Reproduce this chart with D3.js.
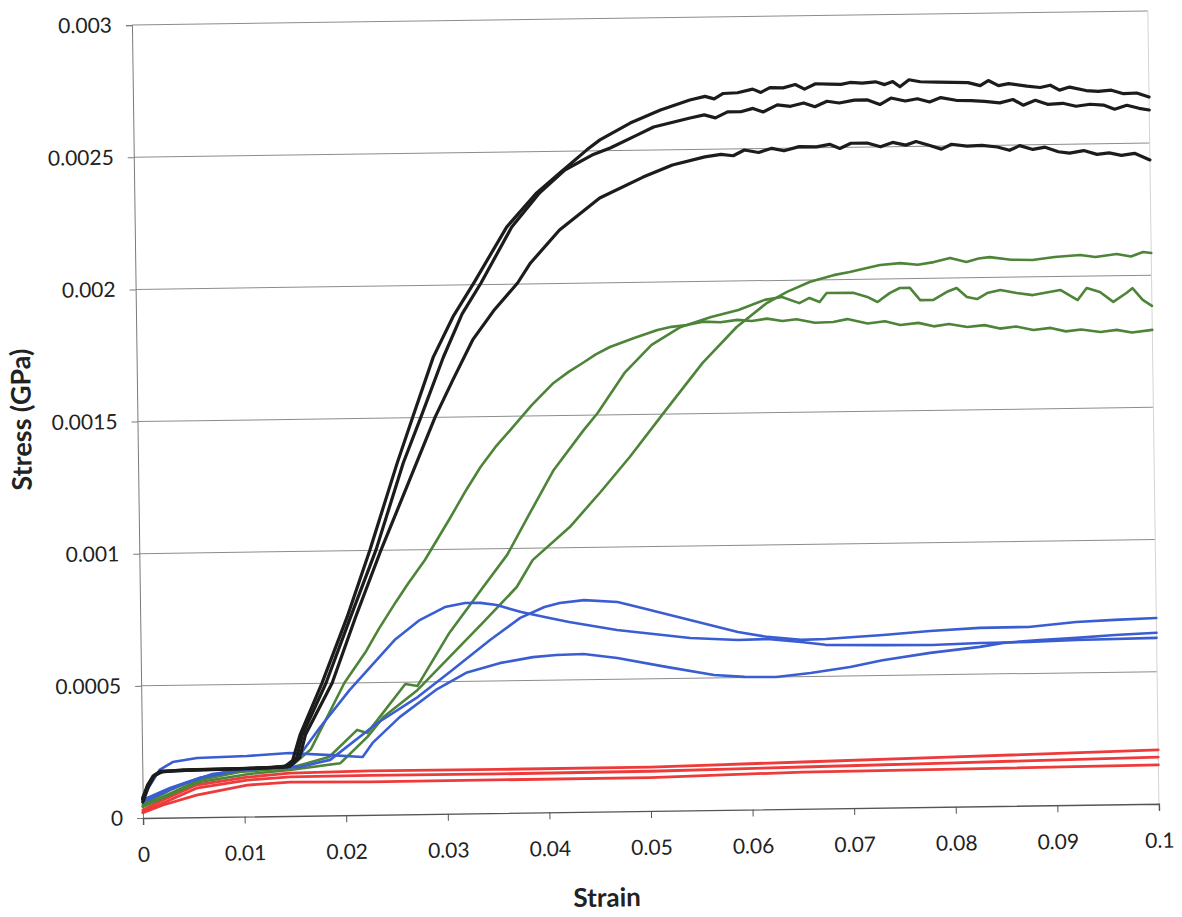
<!DOCTYPE html>
<html><head><meta charset="utf-8">
<script src="https://cdn.jsdelivr.net/npm/d3@7"></script>
<style>
body{margin:0;background:#fff}
text{font-family:Lato,"Open Sans",sans-serif;fill:#222}
</style></head>
<body><svg id="c" width="1182" height="917"></svg>
<script>
// ---- tick values / labels ----
const xTicks = [0,0.01,0.02,0.03,0.04,0.05,0.06,0.07,0.08,0.09,0.1];
const xTickLabels = ["0","0.01","0.02","0.03","0.04","0.05","0.06","0.07","0.08","0.09","0.1"];
const yTicks = [0,0.0005,0.001,0.0015,0.002,0.0025,0.003];
const yTickLabels = ["0","0.0005","0.001","0.0015","0.002","0.0025","0.003"];
const xTitle = "Strain";
const yTitle = "Stress (GPa)";

// ---- series [strain, stress] ----
const black1 = [[0,0.00007],[0.0005,0.00012],[0.001,0.000155],[0.0017,0.000173],[0.004,0.00018],[0.01,0.000182],[0.014,0.000186],[0.0148,0.00021],[0.01557,0.000306],[0.0178,0.000501],[0.02036,0.000749],[0.0227,0.001002],[0.0255,0.001329],[0.0271,0.001503],[0.0292,0.001728],[0.0312,0.00188],[0.0333,0.002007],[0.0366,0.002216],[0.0396,0.002344],[0.0419,0.002418],[0.0446,0.002504],[0.0459,0.002541],[0.0489,0.002603],[0.0519,0.002651],[0.0548,0.002687],[0.0563,0.0027],[0.0572,0.00269],[0.0581,0.00271],[0.0595,0.002712],[0.061,0.002725],[0.0618,0.002712],[0.0627,0.00273],[0.064,0.002728],[0.0652,0.00274],[0.0661,0.002722],[0.0672,0.002742],[0.0685,0.00274],[0.0697,0.002738],[0.0706,0.002745],[0.0718,0.002742],[0.0731,0.002746],[0.074,0.002735],[0.0748,0.002746],[0.0755,0.002726],[0.0764,0.002752],[0.0775,0.002744],[0.0792,0.002742],[0.0808,0.00274],[0.0822,0.002738],[0.0834,0.002726],[0.0842,0.002745],[0.0852,0.002725],[0.0862,0.002732],[0.088,0.002722],[0.0893,0.002716],[0.0903,0.002724],[0.0912,0.002705],[0.0922,0.002716],[0.0938,0.002702],[0.095,0.002698],[0.0963,0.002702],[0.0975,0.002688],[0.0988,0.00269],[0.1,0.002674]];
const black2 = [[0,0.00006],[0.0006,0.00012],[0.0012,0.00016],[0.002,0.000175],[0.006,0.00018],[0.012,0.000183],[0.0143,0.000186],[0.0152,0.00022],[0.0158,0.000306],[0.0182,0.000501],[0.0207,0.000749],[0.0233,0.001002],[0.0261,0.001329],[0.0279,0.001502],[0.0302,0.001728],[0.0321,0.00189],[0.034,0.002006],[0.0371,0.002216],[0.0399,0.002344],[0.0424,0.002429],[0.0451,0.002484],[0.0469,0.00251],[0.0496,0.002558],[0.0512,0.002587],[0.0548,0.002619],[0.0562,0.00263],[0.0573,0.002618],[0.0585,0.00264],[0.0598,0.00264],[0.061,0.002652],[0.062,0.002638],[0.0634,0.002664],[0.0647,0.002658],[0.066,0.00267],[0.0671,0.002655],[0.0683,0.002675],[0.0695,0.002668],[0.071,0.002678],[0.0723,0.002678],[0.0735,0.00266],[0.0746,0.002684],[0.076,0.002672],[0.0772,0.00268],[0.0784,0.002667],[0.0795,0.002683],[0.081,0.002672],[0.0825,0.00267],[0.0838,0.002666],[0.0853,0.00266],[0.0866,0.002672],[0.0876,0.00265],[0.0888,0.002668],[0.09,0.002652],[0.0915,0.002655],[0.0928,0.002643],[0.0942,0.00265],[0.0955,0.002646],[0.0966,0.00263],[0.0978,0.002644],[0.099,0.002632],[0.1,0.002625]];
const black3 = [[0,0.000075],[0.0005,0.000125],[0.0011,0.00016],[0.0018,0.000176],[0.005,0.000178],[0.011,0.000182],[0.0145,0.000187],[0.0155,0.00022],[0.0161,0.000306],[0.0188,0.000501],[0.0212,0.000749],[0.0238,0.001002],[0.026,0.001201],[0.0293,0.001501],[0.0311,0.001641],[0.0331,0.001791],[0.0352,0.0019],[0.0376,0.002004],[0.0389,0.002079],[0.0418,0.002202],[0.0458,0.002321],[0.0501,0.002398],[0.053,0.002442],[0.0562,0.002471],[0.0578,0.00248],[0.059,0.002474],[0.0601,0.002495],[0.0615,0.002485],[0.0628,0.0025],[0.064,0.00249],[0.0655,0.002505],[0.0672,0.002503],[0.0685,0.002512],[0.0695,0.002496],[0.0706,0.002515],[0.0722,0.002515],[0.0735,0.0025],[0.0747,0.002516],[0.076,0.002505],[0.077,0.002518],[0.0782,0.002504],[0.0795,0.002488],[0.0805,0.002506],[0.082,0.002498],[0.0835,0.0025],[0.085,0.002493],[0.0862,0.00248],[0.0872,0.002497],[0.0885,0.002482],[0.0897,0.00249],[0.091,0.002472],[0.0921,0.002466],[0.0935,0.002475],[0.0948,0.00246],[0.096,0.002465],[0.0972,0.002455],[0.0985,0.002462],[0.1,0.002436]];

const green1 = [[0,0.00005],[0.0027,0.000104],[0.0056,0.000148],[0.0086,0.000173],[0.0115,0.000179],[0.0148,0.000193],[0.0166,0.00025],[0.02,0.0005],[0.0222,0.00062],[0.0235,0.000705],[0.0252,0.000805],[0.0264,0.000872],[0.0281,0.000961],[0.0305,0.00111],[0.0322,0.00122],[0.0337,0.00131],[0.0352,0.001385],[0.0367,0.001449],[0.0388,0.00154],[0.041,0.001624],[0.0425,0.001665],[0.0439,0.001698],[0.0452,0.00173],[0.0466,0.001757],[0.049,0.00179],[0.0513,0.001819],[0.0527,0.00183],[0.0542,0.001836],[0.0558,0.001848],[0.0575,0.001845],[0.0592,0.001853],[0.0606,0.001848],[0.0621,0.001856],[0.0636,0.001846],[0.065,0.001852],[0.0668,0.001838],[0.0686,0.00184],[0.07,0.00185],[0.072,0.001832],[0.0737,0.00184],[0.0752,0.001825],[0.077,0.001832],[0.0785,0.001818],[0.08,0.001826],[0.0818,0.001814],[0.0835,0.00182],[0.085,0.001806],[0.0866,0.001813],[0.0883,0.001799],[0.09,0.001806],[0.0915,0.001792],[0.093,0.001798],[0.0949,0.001788],[0.0965,0.001795],[0.098,0.001784],[0.1,0.001793]];
const green2 = [[0,0.000045],[0.0056,0.000141],[0.0096,0.000169],[0.0145,0.000181],[0.0184,0.000221],[0.0212,0.000322],[0.0222,0.00031],[0.0232,0.000358],[0.026,0.000493],[0.0272,0.000485],[0.0304,0.000684],[0.0338,0.000856],[0.0362,0.000976],[0.0386,0.00114],[0.0409,0.001295],[0.0439,0.001444],[0.0453,0.001508],[0.048,0.001658],[0.0507,0.001763],[0.0536,0.001829],[0.0566,0.001865],[0.0593,0.00189],[0.0619,0.001927],[0.0636,0.001937],[0.0653,0.001913],[0.0663,0.001932],[0.0673,0.001916],[0.068,0.00195],[0.0706,0.001949],[0.072,0.001933],[0.073,0.001913],[0.0742,0.001946],[0.0752,0.001965],[0.0762,0.001965],[0.0772,0.001918],[0.0785,0.001918],[0.0798,0.001947],[0.0808,0.001962],[0.0818,0.001927],[0.0828,0.001919],[0.0838,0.001941],[0.0851,0.001952],[0.0867,0.00194],[0.0883,0.001931],[0.091,0.001949],[0.0927,0.00191],[0.0936,0.001955],[0.0949,0.001939],[0.0962,0.001901],[0.0975,0.001934],[0.0981,0.001952],[0.0991,0.001907],[0.1,0.001884]];
const green3 = [[0,0.000042],[0.0056,0.000133],[0.0105,0.000161],[0.0145,0.000174],[0.0195,0.000197],[0.0222,0.000295],[0.0238,0.000369],[0.0272,0.00047],[0.0304,0.000593],[0.0337,0.00072],[0.0371,0.000854],[0.0387,0.000955],[0.0424,0.001078],[0.0455,0.00121],[0.0484,0.00134],[0.0518,0.001505],[0.0557,0.001692],[0.0591,0.001826],[0.0621,0.001915],[0.0641,0.001956],[0.0664,0.001993],[0.0687,0.002017],[0.0703,0.002028],[0.072,0.002042],[0.0733,0.002053],[0.0753,0.002059],[0.077,0.002052],[0.0786,0.002061],[0.0802,0.002076],[0.0818,0.00206],[0.083,0.002072],[0.0841,0.002077],[0.0862,0.002066],[0.0883,0.002064],[0.0905,0.002074],[0.093,0.00208],[0.0945,0.002072],[0.0966,0.002082],[0.098,0.002072],[0.0992,0.002088],[0.1,0.002084]];

const blue1 = [[0,0.000068],[0.0027,0.000112],[0.0056,0.000148],[0.0096,0.000176],[0.0125,0.000182],[0.0148,0.000193],[0.0175,0.000331],[0.0205,0.000473],[0.025,0.00066],[0.0275,0.000734],[0.03,0.000782],[0.032,0.000796],[0.0335,0.000796],[0.0351,0.000787],[0.0375,0.000759],[0.0398,0.000739],[0.0422,0.000719],[0.0469,0.000686],[0.0541,0.000652],[0.0588,0.000642],[0.0617,0.000644],[0.065,0.000631],[0.0674,0.000619],[0.0731,0.000615],[0.0779,0.000613],[0.0826,0.000618],[0.0874,0.000619],[0.0921,0.000624],[0.1,0.000628]];
const blue2 = [[0,0.00006],[0.0037,0.000123],[0.0069,0.000163],[0.0106,0.00018],[0.0155,0.000185],[0.0185,0.00021],[0.0232,0.000347],[0.0272,0.000443],[0.0304,0.000536],[0.0344,0.000655],[0.0374,0.000737],[0.0398,0.000777],[0.0413,0.000791],[0.0437,0.000801],[0.047,0.000792],[0.0494,0.000768],[0.0541,0.00072],[0.0588,0.000672],[0.0617,0.000652],[0.065,0.000639],[0.0674,0.000641],[0.0731,0.000653],[0.0777,0.000666],[0.0826,0.000675],[0.0874,0.000676],[0.0921,0.000692],[0.0959,0.000698],[0.1,0.000703]];
const blue3 = [[0,0.000079],[0.0017,0.000181],[0.003,0.00021],[0.0054,0.000224],[0.0103,0.000229],[0.0145,0.000238],[0.0185,0.000228],[0.0217,0.000219],[0.0227,0.000272],[0.0254,0.000368],[0.029,0.000469],[0.032,0.000532],[0.0353,0.000567],[0.0386,0.000588],[0.0409,0.000595],[0.0436,0.000597],[0.0469,0.00058],[0.0517,0.000544],[0.0564,0.000511],[0.0594,0.000502],[0.0625,0.0005],[0.0659,0.000513],[0.0698,0.000534],[0.073,0.000558],[0.0777,0.000583],[0.0826,0.000603],[0.0849,0.000617],[0.0885,0.000626],[0.0921,0.000632],[0.0959,0.000641],[0.1,0.000647]];

const red1 = [[0,0.00003],[0.002,0.000067],[0.0053,0.000122],[0.0103,0.000149],[0.0145,0.000162],[0.0224,0.000166],[0.035,0.000165],[0.05,0.000166],[0.065,0.000177],[0.08,0.000188],[0.1,0.000204]];
const red2 = [[0,0.000023],[0.0053,0.00011],[0.0103,0.000138],[0.0145,0.000148],[0.0224,0.000149],[0.035,0.000148],[0.05,0.00015],[0.065,0.000158],[0.08,0.000166],[0.1,0.000177]];
const red3 = [[0,0.00002],[0.002,0.000048],[0.0053,0.000084],[0.0103,0.000119],[0.0145,0.000128],[0.0224,0.000125],[0.05,0.000126],[0.065,0.000139],[0.08,0.000142],[0.1,0.000147]];

const groups = [
  {series:[red1,red2,red3], color:"#ee3a3a", width:2.8},
  {series:[green1,green2,green3], color:"#4d8438", width:2.6},
  {series:[blue1,blue2,blue3], color:"#3a5dd2", width:2.6},
  {series:[black1,black2,black3], color:"#1c1c1c", width:3.2}
];

// ---- layout ----
const W = 1016, H = 793;
const svg = d3.select("#c");
const g = svg.append("g").attr("transform","translate(143,818) rotate(-0.8) translate(0,-793)");

const x = d3.scaleLinear().domain([0,0.1]).range([0,W]);
const y = d3.scaleLinear().domain([0,0.003]).range([H,0]);

// gridlines
g.append("g").selectAll("line").data(yTicks.filter(d=>d>0)).join("line")
  .attr("x1",0).attr("x2",W).attr("y1",d=>y(d)).attr("y2",d=>y(d))
  .attr("stroke","#8c8c8c").attr("stroke-width",1);
// right border
g.append("line").attr("x1",W).attr("x2",W).attr("y1",0).attr("y2",H)
  .attr("stroke","#d4d4d4").attr("stroke-width",1);

// y axis
const ya = g.append("g").call(d3.axisLeft(y).tickValues(yTicks).tickFormat((d,i)=>yTickLabels[i]).tickSize(6).tickPadding(14));
ya.select(".domain").attr("stroke","#7a7a7a");
ya.selectAll(".tick line").attr("stroke","#7a7a7a");
ya.selectAll("text").style("font-size","21px").attr("fill","#222");

// x axis
const xa = g.append("g").attr("transform",`translate(0,${H})`)
  .call(d3.axisBottom(x).tickValues(xTicks).tickFormat((d,i)=>xTickLabels[i]).tickSize(7).tickPadding(22));
xa.select(".domain").attr("stroke","#555").attr("stroke-width",1.4);
xa.selectAll(".tick line").attr("stroke","#555");
xa.selectAll("text").style("font-size","21px").attr("fill","#222");

// lines
const line = d3.line().x(d=>x(d[0])).y(d=>y(d[1]));
groups.forEach(gr=>{
  g.append("g").selectAll("path").data(gr.series).join("path")
    .attr("d",line).attr("fill","none").attr("stroke",gr.color)
    .attr("stroke-width",gr.width).attr("stroke-linejoin","round").attr("stroke-linecap","round");
});

// titles
g.append("text").attr("transform","translate(-116,393) rotate(-90)")
  .attr("text-anchor","middle").attr("dy","0.35em")
  .style("font-size","27px").style("font-weight","bold").text(yTitle);
g.append("text").attr("x",463).attr("y",H+86).attr("text-anchor","middle").attr("dy","0.35em")
  .style("font-size","26px").style("font-weight","bold").text(xTitle);
</script></body></html>
